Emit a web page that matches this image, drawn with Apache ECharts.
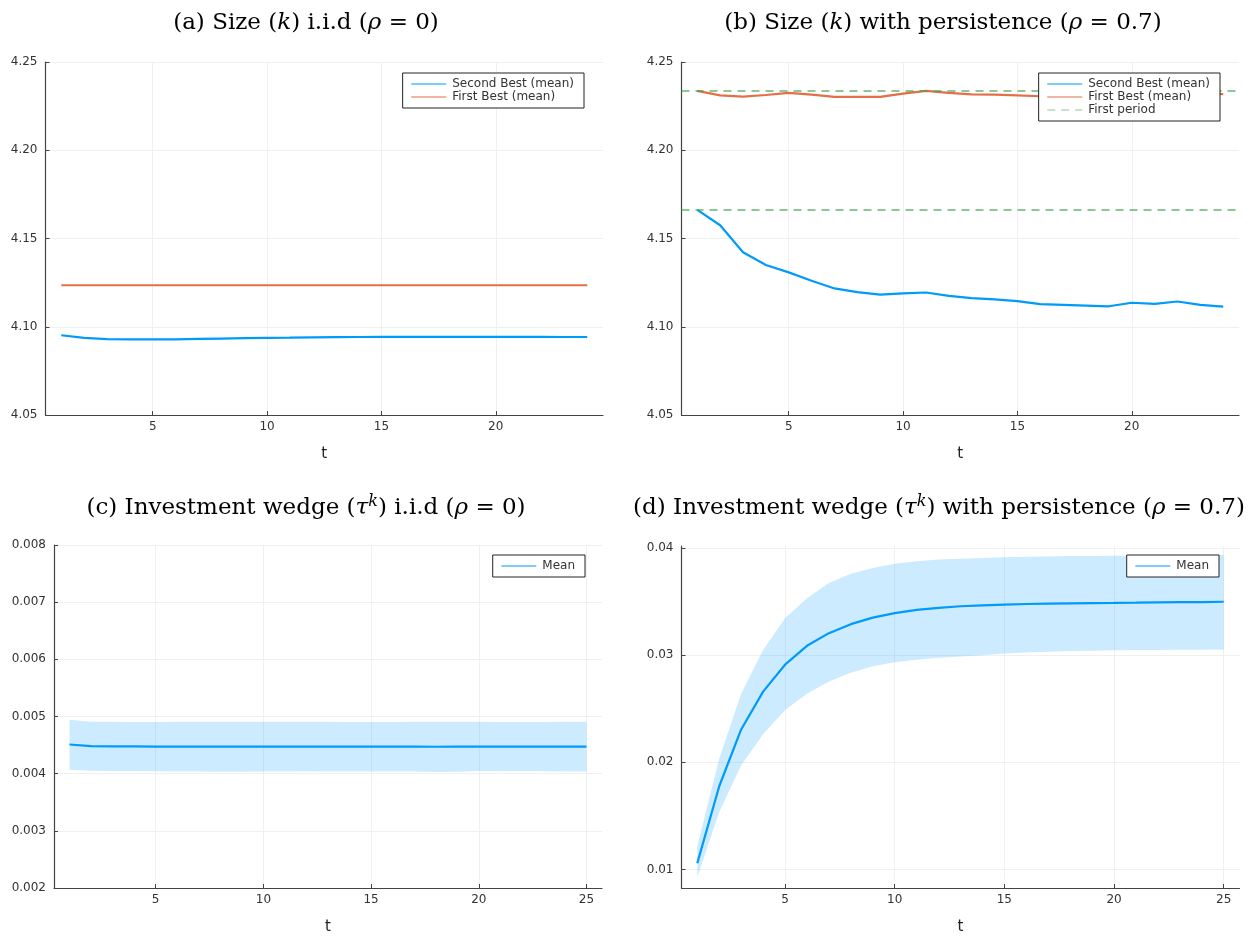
<!DOCTYPE html>
<html>
<head>
<meta charset="utf-8">
<script src="https://cdn.jsdelivr.net/npm/echarts@6/dist/echarts.min.js"></script>
<style>
html,body{margin:0;padding:0;background:#fff;}
#chart{width:1249px;height:936px;}
</style>
</head>
<body>
<div id="chart"></div>
<script>
// ---------- data ----------
const tTop = [1,2,3,4,5,6,7,8,9,10,11,12,13,14,15,16,17,18,19,20,21,22,23,24];
const tBottom = [1,2,3,4,5,6,7,8,9,10,11,12,13,14,15,16,17,18,19,20,21,22,23,24,25];

// (a) i.i.d
const secondBestA = [4.0952,4.0937,4.0930,4.0928,4.0928,4.0929,4.0931,4.0933,4.0935,4.0937,4.0938,4.0940,4.0941,4.0942,4.0943,4.0943,4.0943,4.0943,4.0943,4.0943,4.0943,4.0943,4.0942,4.0942];
const firstBestA = [4.1235,4.1235,4.1235,4.1235,4.1235,4.1235,4.1235,4.1235,4.1235,4.1235,4.1235,4.1235,4.1235,4.1235,4.1235,4.1235,4.1235,4.1235,4.1235,4.1235,4.1235,4.1235,4.1235,4.1235];

// (b) persistence
const secondBestB = [4.1662,4.1575,4.1422,4.1350,4.1308,4.1261,4.1217,4.1196,4.1182,4.1189,4.1194,4.1175,4.1162,4.1155,4.1145,4.1128,4.1124,4.1120,4.1116,4.1136,4.1130,4.1143,4.1124,4.1114];
const firstBestB = [4.2336,4.2311,4.2304,4.2313,4.2325,4.2315,4.2302,4.2302,4.2302,4.2321,4.2336,4.2325,4.2317,4.2315,4.2311,4.2306,4.2300,4.2298,4.2300,4.2302,4.2305,4.2312,4.2322,4.2318];
const firstPeriodB = [4.2335, 4.1664];

// (c) wedge i.i.d
const meanC = [0.004510,0.004482,0.004478,0.004476,0.004474,0.004473,0.004474,0.004472,0.004472,0.004473,0.004473,0.004474,0.004474,0.004473,0.004474,0.004474,0.004473,0.004471,0.004472,0.004473,0.004473,0.004474,0.004474,0.004473,0.004472];
const upperC = [0.004945,0.004910,0.004906,0.004905,0.004905,0.004906,0.004907,0.004908,0.004907,0.004906,0.004906,0.004906,0.004906,0.004905,0.004905,0.004905,0.004906,0.004907,0.004907,0.004906,0.004905,0.004905,0.004905,0.004906,0.004906];
const lowerC = [0.004068,0.004052,0.004048,0.004046,0.004042,0.004040,0.004040,0.004034,0.004034,0.004038,0.004040,0.004042,0.004040,0.004040,0.004040,0.004040,0.004036,0.004030,0.004034,0.004046,0.004044,0.004046,0.004042,0.004040,0.004038];

// (d) wedge persistence
const meanD = [0.01060,0.01777,0.02307,0.02660,0.02911,0.03087,0.03205,0.03289,0.03350,0.03392,0.03422,0.03440,0.03456,0.03465,0.03471,0.03477,0.03480,0.03483,0.03486,0.03487,0.03489,0.03492,0.03494,0.03495,0.03498];
const upperD = [0.01218,0.02034,0.02639,0.03047,0.03344,0.03531,0.03673,0.03758,0.03813,0.03852,0.03876,0.03891,0.03900,0.03906,0.03912,0.03918,0.03921,0.03924,0.03925,0.03927,0.03928,0.03929,0.03930,0.03932,0.03933];
const lowerD = [0.00931,0.01536,0.01974,0.02261,0.02488,0.02639,0.02754,0.02836,0.02896,0.02933,0.02957,0.02975,0.02988,0.03000,0.03015,0.03025,0.03032,0.03038,0.03042,0.03045,0.03047,0.03049,0.03050,0.03051,0.03053];

// tick labels
const xTicksTop = [5,10,15,20];
const xTicksBottom = [5,10,15,20,25];
const yTicksD = [0.01,0.02,0.03,0.04];

// ---------- styling ----------
const BLUE = '#009AFA', RED = '#E36F47', GREEN = 'rgba(62,164,78,0.6)';
const BAND = 'rgba(0,154,250,0.2)';
const GRIDC = '#f0f0f0';
const TXT = '#333';
const pairs = (xs, ys) => xs.map((x, i) => [x, ys[i]]);

function xAxis(gi, min, max, ticks) {
  return {
    type: 'value', gridIndex: gi, min: min, max: max,
    name: 't', nameLocation: 'middle', nameGap: 32,
    nameTextStyle: {fontFamily: 'DejaVu Sans', fontSize: 15, color: '#222'},
    axisLine: {show: true, onZero: false, lineStyle: {color: '#444', width: 1.2}},
    axisTick: {show: true, inside: true, length: 4, customValues: ticks, lineStyle: {color: '#444'}},
    axisLabel: {customValues: ticks, margin: 6, fontFamily: 'DejaVu Sans', fontSize: 12, color: TXT},
    splitLine: {show: true, lineStyle: {color: GRIDC, width: 1}}
  };
}
function yAxis(gi, min, max, opts) {
  const o = {
    type: 'value', gridIndex: gi, min: min, max: max,
    axisLine: {show: true, onZero: false, lineStyle: {color: '#444', width: 1.2}},
    axisTick: {show: true, inside: true, length: 4, lineStyle: {color: '#444'}},
    axisLabel: {margin: 8, fontFamily: 'DejaVu Sans', fontSize: 12, color: TXT,
      formatter: v => v.toFixed(opts.dec), showMinLabel: true, showMaxLabel: true},
    splitLine: {show: true, lineStyle: {color: GRIDC, width: 1}}
  };
  if (opts.interval) o.interval = opts.interval;
  if (opts.ticks) { o.axisTick.customValues = opts.ticks; o.axisLabel.customValues = opts.ticks; }
  return o;
}
function lineSeries(name, xi, data, color, z) {
  return {
    type: 'line', name: name, xAxisIndex: xi, yAxisIndex: xi, data: data,
    symbol: 'none', showSymbol: false, smooth: false, color: color, z: z || 3,
    lineStyle: {color: color, width: 2.2}, emphasis: {disabled: true}, silent: true
  };
}
function bandSeries(xi, xs, lo, hi) {
  return {
    type: 'custom', xAxisIndex: xi, yAxisIndex: xi, silent: true, z: 1,
    data: xs.map((x, i) => [x, lo[i], hi[i]]),
    encode: {x: 0, y: [1, 2]},
    renderItem: function (params, api) {
      if (params.dataIndex !== 0) return null;
      const pts = [];
      for (let i = 0; i < xs.length; i++) pts.push(api.coord([xs[i], hi[i]]));
      for (let i = xs.length - 1; i >= 0; i--) pts.push(api.coord([xs[i], lo[i]]));
      return {type: 'polygon', shape: {points: pts}, style: {fill: BAND}};
    }
  };
}
function legend(names, right, top) {
  return {
    data: names, orient: 'vertical', right: right, top: top,
    backgroundColor: '#fff', borderColor: '#222', borderWidth: 1, borderRadius: 0,
    padding: [5, 10, 5, 8], itemGap: 1, itemWidth: 35, itemHeight: 14,
    textStyle: {fontFamily: 'DejaVu Sans', fontSize: 12, color: TXT, padding: [0, 0, 0, 1]},
    itemStyle: {opacity: 0}, lineStyle: {width: 1.2},
    selectedMode: false, z: 10
  };
}
const TF = 'DejaVu Serif';
const titleBase = {fontFamily: TF, fontSize: 23, color: '#000', fontWeight: 'normal'};
const titleRich = {
  i: {fontFamily: TF, fontSize: 23, fontStyle: 'italic', color: '#000'},
  s: {fontFamily: TF, fontSize: 16, fontStyle: 'italic', color: '#000', padding: [0, 0, 12, 0]}
};
function title(text, cx, top) {
  return {text: text, left: cx, top: top, textAlign: 'center',
    textStyle: Object.assign({}, titleBase, {rich: titleRich})};
}

const option = {
  backgroundColor: '#fff',
  animation: false,
  title: [
    title('(a) Size ({i|k}) i.i.d ({i|ρ} = 0)', 301, 7),
    title('(b) Size ({i|k}) with persistence ({i|ρ} = 0.7)', 938, 7),
    title('(c) Investment wedge ({i|τ}{s|k}) i.i.d ({i|ρ} = 0)', 301, 489),
    title('(d) Investment wedge ({i|τ}{s|k}) with persistence ({i|ρ} = 0.7)', 934, 489)
  ],
  legend: [
    legend(['Second Best (mean)', 'First Best (mean)'], 665, 73),
    legend(['Second Best (mean)', 'First Best (mean)', 'First period'], 29, 73),
    legend(['Mean'], 664, 555),
    legend(['Mean'], 30, 555)
  ],
  grid: [
    {left: 45.5, top: 62, width: 557.5, height: 353},
    {left: 681.5, top: 62, width: 557.5, height: 353},
    {left: 54, top: 545, width: 548, height: 353},
    {left: 681.5, top: 546, width: 558, height: 352}
  ],
  xAxis: [
    xAxis(0, 0.31, 24.69, xTicksTop),
    xAxis(1, 0.31, 24.69, xTicksTop),
    xAxis(2, 0.28, 25.72, xTicksBottom),
    xAxis(3, 0.28, 25.72, xTicksBottom)
  ],
  yAxis: [
    yAxis(0, 4.05, 4.25, {dec: 2, interval: 0.05}),
    yAxis(1, 4.05, 4.25, {dec: 2, interval: 0.05}),
    yAxis(2, 0.002, 0.008, {dec: 3, interval: 0.001}),
    yAxis(3, 0.00828, 0.04018, {dec: 2, ticks: yTicksD})
  ],
  series: [
    lineSeries('Second Best (mean)', 0, pairs(tTop, secondBestA), BLUE),
    lineSeries('First Best (mean)', 0, pairs(tTop, firstBestA), RED),
    lineSeries('Second Best (mean)', 1, pairs(tTop, secondBestB), BLUE),
    lineSeries('First Best (mean)', 1, pairs(tTop, firstBestB), RED),
    {
      type: 'line', name: 'First period', xAxisIndex: 1, yAxisIndex: 1, data: [],
      symbol: 'none', color: GREEN, z: 2, silent: true,
      lineStyle: {color: GREEN, width: 1.8, type: [8, 6]},
      markLine: {
        symbol: 'none', silent: true, animation: false, precision: 6,
        label: {show: false},
        lineStyle: {color: GREEN, width: 1.8, type: [8, 6]},
        emphasis: {disabled: true},
        data: firstPeriodB.map(v => ({yAxis: v}))
      }
    },
    bandSeries(2, tBottom, lowerC, upperC),
    lineSeries('Mean', 2, pairs(tBottom, meanC), BLUE),
    bandSeries(3, tBottom, lowerD, upperD),
    lineSeries('Mean', 3, pairs(tBottom, meanD), BLUE)
  ]
};

const chart = echarts.init(document.getElementById('chart'), null, {renderer: 'canvas'});
chart.setOption(option);
</script>
</body>
</html>
